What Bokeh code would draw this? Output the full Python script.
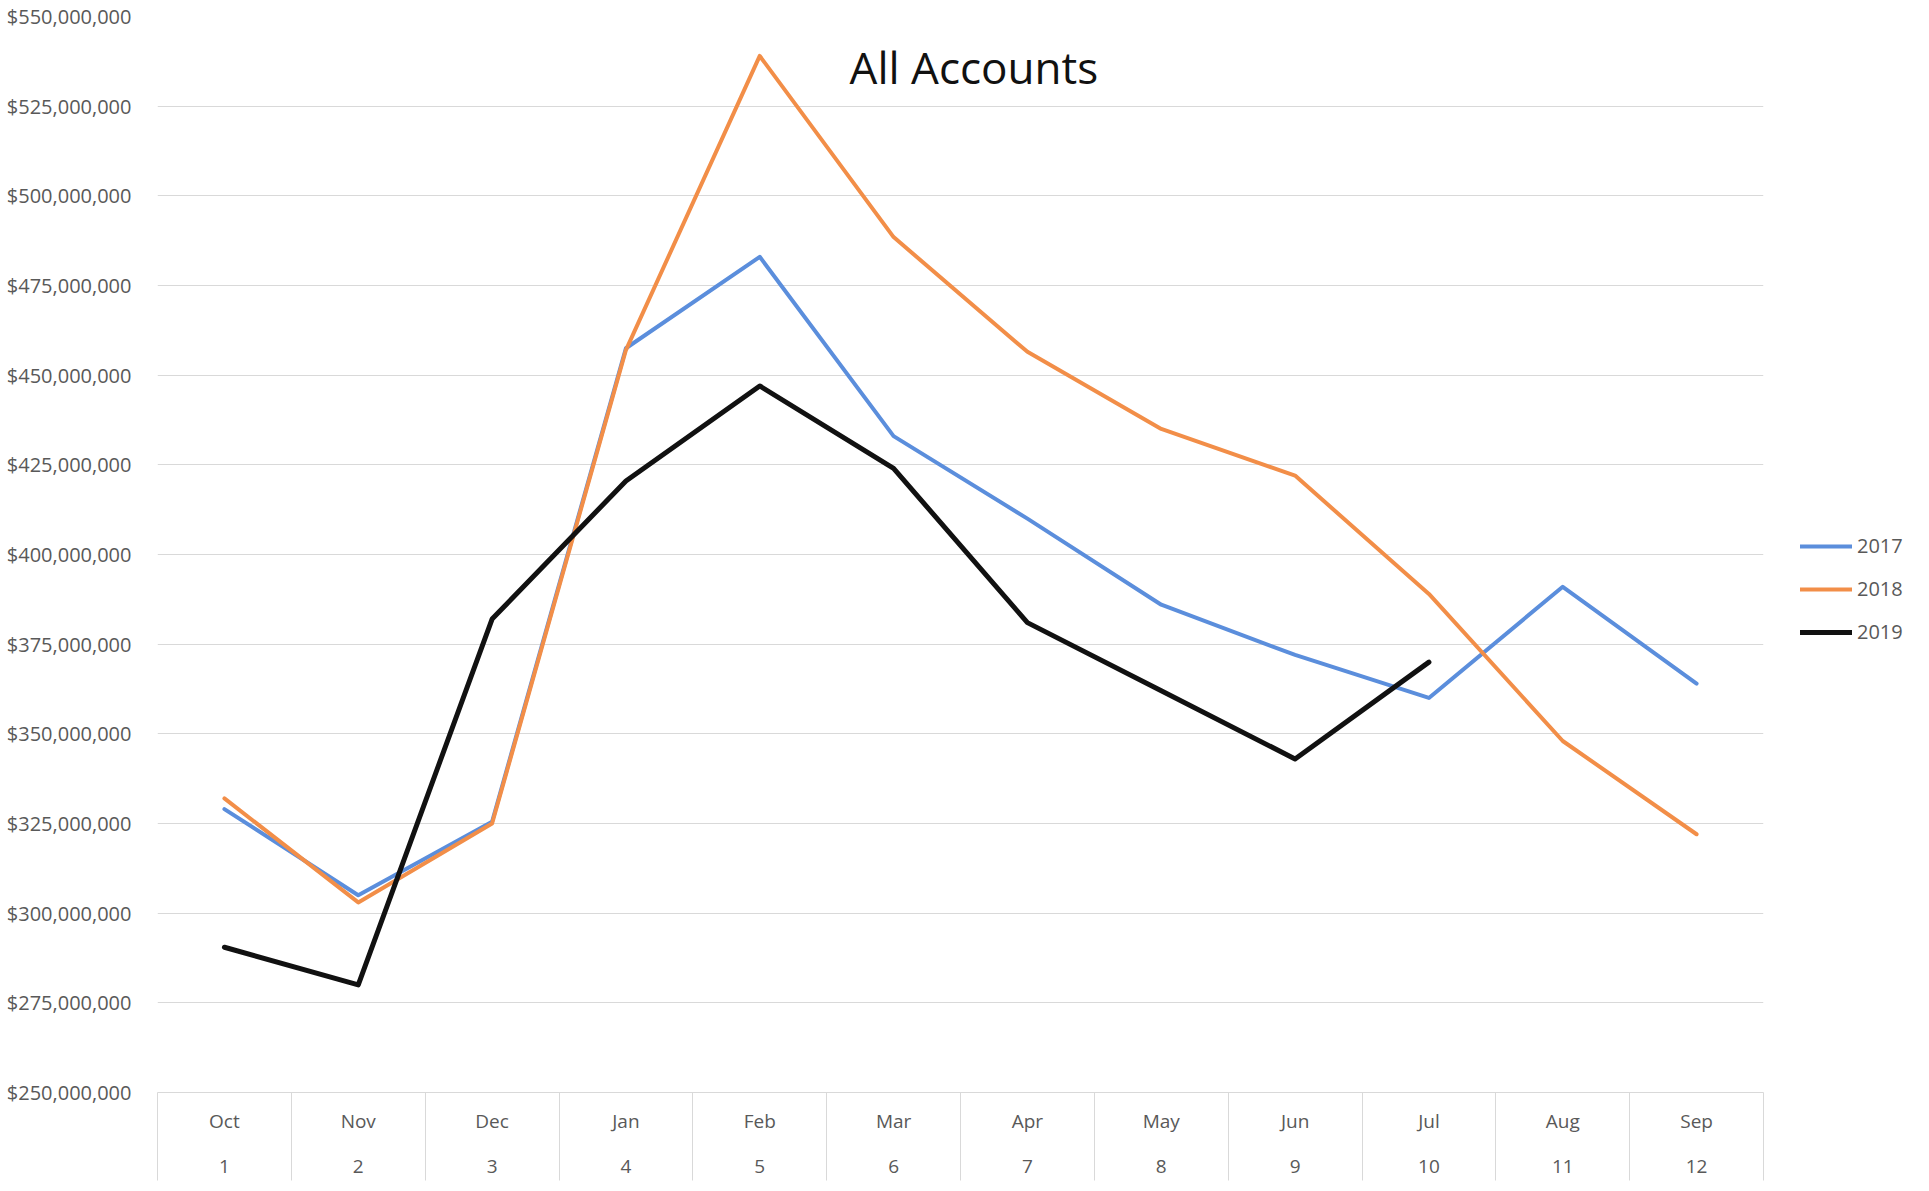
from bokeh.plotting import figure
from bokeh.models import (Range1d, FixedTicker, LinearAxis, NumeralTickFormatter,
                          Legend, LegendItem, Label)
from bokeh.embed import file_html
from bokeh.resources import INLINE

# ---- data ----
months = ["Oct", "Nov", "Dec", "Jan", "Feb", "Mar", "Apr", "May", "Jun", "Jul", "Aug", "Sep"]
month_nums = [1, 2, 3, 4, 5, 6, 7, 8, 9, 10, 11, 12]
series_names = ["2017", "2018", "2019"]
y2017 = [329e6, 305e6, 325.5e6, 457.5e6, 483e6, 433e6, 410e6, 386e6, 372e6, 360e6, 391e6, 364e6]
y2018 = [332e6, 303e6, 325e6, 457e6, 539e6, 488.5e6, 456.5e6, 435e6, 422e6, 389e6, 348e6, 322e6]
y2019 = [290.5e6, 280e6, 382e6, 420.5e6, 447e6, 424e6, 381e6, 362e6, 343e6, 370e6]
y_ticks = [250e6, 275e6, 300e6, 325e6, 350e6, 375e6, 400e6, 425e6, 450e6, 475e6, 500e6, 525e6, 550e6]
title_text = "All Accounts"

colors = ["#5B8EDC", "#F28E48", "#111111"]
widths = [4, 4, 5]
FONT = "Open Sans"
GRID = "#d9d9d9"
TXT = "#595959"

p = figure(frame_width=1606, frame_height=1076,
           x_range=Range1d(0.5, 12.5), y_range=Range1d(y_ticks[0], y_ticks[-1]),
           output_backend="svg", toolbar_location=None,
           min_border_left=157, min_border_top=16, min_border_right=158, min_border_bottom=91)
p.outline_line_color = None
p.background_fill_color = "white"
p.border_fill_color = "white"

# y axis
yt = FixedTicker(ticks=y_ticks)
p.yaxis.ticker = yt
p.yaxis.formatter = NumeralTickFormatter(format="$0,0")
p.yaxis.axis_line_color = None
p.yaxis.major_tick_line_color = None
p.yaxis.minor_tick_line_color = None
p.yaxis.major_label_standoff = 20
p.yaxis.major_label_text_font = FONT
p.yaxis.major_label_text_font_size = "20px"
p.yaxis.major_label_text_color = TXT

p.ygrid.ticker = yt
p.ygrid.grid_line_color = GRID
p.ygrid.grid_line_width = 1
p.xgrid.visible = False

# x axis: months with table separators (minor ticks)
xa = p.xaxis[0]
xa.ticker = FixedTicker(ticks=month_nums, minor_ticks=[m - 0.5 for m in month_nums] + [12.5])
xa.major_label_overrides = {m: lab for m, lab in zip(month_nums, months)}
xa.axis_line_color = GRID
xa.major_tick_line_color = None
xa.major_tick_out = 0
xa.major_tick_in = 0
xa.minor_tick_line_color = GRID
xa.minor_tick_out = 88
xa.minor_tick_in = 0
xa.major_label_standoff = -73
xa.major_label_text_font = FONT
xa.major_label_text_font_size = "19px"
xa.major_label_text_color = TXT

xb = LinearAxis(ticker=FixedTicker(ticks=month_nums))
xb.axis_line_color = None
xb.major_tick_line_color = None
xb.minor_tick_line_color = None
xb.major_tick_out = 0
xb.major_tick_in = 0
xb.major_label_standoff = 23
xb.major_label_text_font = FONT
xb.major_label_text_font_size = "19px"
xb.major_label_text_color = TXT
p.add_layout(xb, "below")

# lines
renderers = []
for name, ys, c, w in zip(series_names, [y2017, y2018, y2019], colors, widths):
    r = p.line(month_nums[:len(ys)], ys, line_color=c, line_width=w,
               line_join="round", line_cap="round")
    renderers.append(r)

legend = Legend(items=[LegendItem(label=n, renderers=[r]) for n, r in zip(series_names, renderers)],
                location=(37, 447), orientation="vertical",
                glyph_width=52, glyph_height=20, label_height=20, label_width=40,
                spacing=16, padding=0, margin=0, label_standoff=5,
                border_line_color=None, background_fill_alpha=0,
                label_text_font=FONT, label_text_font_size="20px", label_text_color=TXT)
p.add_layout(legend, "right")

title = Label(x=6.6, y=536e6, text=title_text, text_align="center", text_baseline="middle",
              text_font=FONT, text_font_size="44px", text_color="#111111")
p.add_layout(title)

open("out.html", "w").write(file_html(p, INLINE))
